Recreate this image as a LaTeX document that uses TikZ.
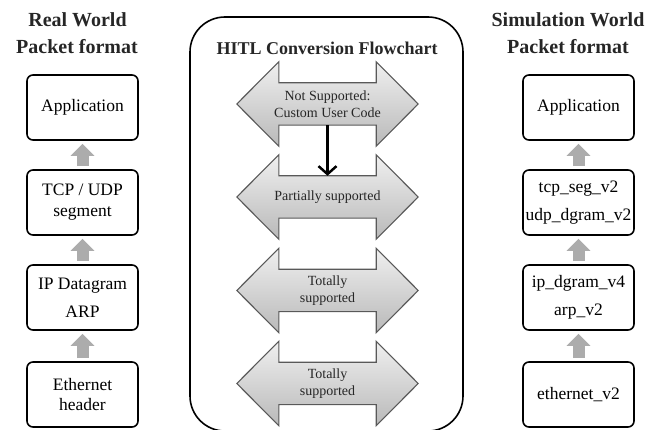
\documentclass[tikz,border=0pt]{standalone}
\usepackage{fontspec}
\setmainfont{Liberation Serif}
\usetikzlibrary{arrows.meta,backgrounds}
\tikzset{
  title/.style={font=\bfseries\fontsize{20}{24}\selectfont, text=black!85, anchor=base, inner sep=0pt},
  layerbox/.style={draw=black, line width=1.6pt, rounded corners=6pt, minimum width=111pt,
    minimum height=65pt, inner sep=0pt, align=center, text=black},
  upflow/.style={draw=gray!65, line width=12pt, shorten <=3pt, shorten >=3pt,
    -{Triangle[length=12pt,width=23pt]}},
  shaft/.style={minimum width=97pt, minimum height=42pt, inner sep=0pt},
  shafttext/.style={inner sep=0pt, align=center, text=black!85, font=\fontsize{14}{16.5}\selectfont},
  dblarrow/.style={draw=black!65, line width=1.1pt, line join=miter,
    top color=gray!12, bottom color=gray!55},
  container/.style={draw=black, line width=1.6pt, rounded corners=35pt, minimum width=273pt,
    minimum height=414pt, inner sep=0pt},
  flowarrow/.style={draw=black, line width=2.5pt, -{Straight Barb[length=8pt,width=18pt]}}
}
\begin{document}
\begin{tikzpicture}[x=1pt,y=-1pt]
\useasboundingbox (0,0) rectangle (662,430);

% titles
\node[title] (lt1) at (77.5,27) {Real World};
\node[title] (lt2) at (77,54) {Packet format};
\node[title] (rt1) at (568,27) {Simulation World};
\node[title] (rt2) at (568,54) {Packet format};

% left column
\node[layerbox, font=\fontsize{17.5}{21}\selectfont] (lapp) at (82.5,107.5) {Application};
\node[layerbox, font=\fontsize{17.5}{21}\selectfont] (ltcp) at (82.5,202.5) {TCP / UDP\\segment};
\node[layerbox, font=\fontsize{17.5}{28}\selectfont] (lip) at (82.5,297.5) {IP Datagram\\ARP};
\node[layerbox, font=\fontsize{17.5}{20}\selectfont] (leth) at (82.5,394.5) {Ethernet\\header};
\draw[upflow] (ltcp) -- (lapp);
\draw[upflow] (lip) -- (ltcp);
\draw[upflow] (leth) -- (lip);

% right column
\node[layerbox, font=\fontsize{17.5}{21}\selectfont] (rapp) at (578.5,107.5) {Application};
\node[layerbox, font=\fontsize{17.5}{28}\selectfont] (rtcp) at (578.5,202.5) {tcp\_seg\_v2\\udp\_dgram\_v2};
\node[layerbox, font=\fontsize{17.5}{28}\selectfont] (rip) at (578.5,297.5) {ip\_dgram\_v4\\arp\_v2};
\node[layerbox, font=\fontsize{17.5}{20}\selectfont] (reth) at (578.5,394.5) {ethernet\_v2};
\draw[upflow] (rtcp) -- (rapp);
\draw[upflow] (rip) -- (rtcp);
\draw[upflow] (reth) -- (rip);

% centre container
\node[container] (hitl) at (326.5,224) {};
\node[title, font=\bfseries\fontsize{18}{22}\selectfont] (htitle) at (327,55) {HITL Conversion Flowchart};

\node[shaft] (a1) at (327.5,104) {};
\node[shaft] (a2) at (327.5,197) {};
\node[shaft] (a3) at (327.5,290.5) {};
\node[shaft] (a4) at (327.5,383.5) {};

\begin{pgfonlayer}{background}
\foreach \n in {a1,a2,a3,a4}{
  \draw[dblarrow] (\n.north west) -- ([yshift=21pt]\n.north west) -- ([xshift=-42pt]\n.west)
    -- ([yshift=-21pt]\n.south west) -- (\n.south west) -- (\n.south east)
    -- ([yshift=-21pt]\n.south east) -- ([xshift=42pt]\n.east)
    -- ([yshift=21pt]\n.north east) -- (\n.north east) -- cycle;
}
\end{pgfonlayer}

\node[shafttext] (a1t) at (a1.center) {Not Supported:\\Custom User Code};
\node[shafttext] (a2t) at (a2.center) {Partially supported};
\node[shafttext] (a3t) at (a3.center) {Totally\\supported};
\node[shafttext] (a4t) at (a4.center) {Totally\\supported};

\draw[flowarrow] (a1.south) -- (a2.north);
\end{tikzpicture}
\end{document}
